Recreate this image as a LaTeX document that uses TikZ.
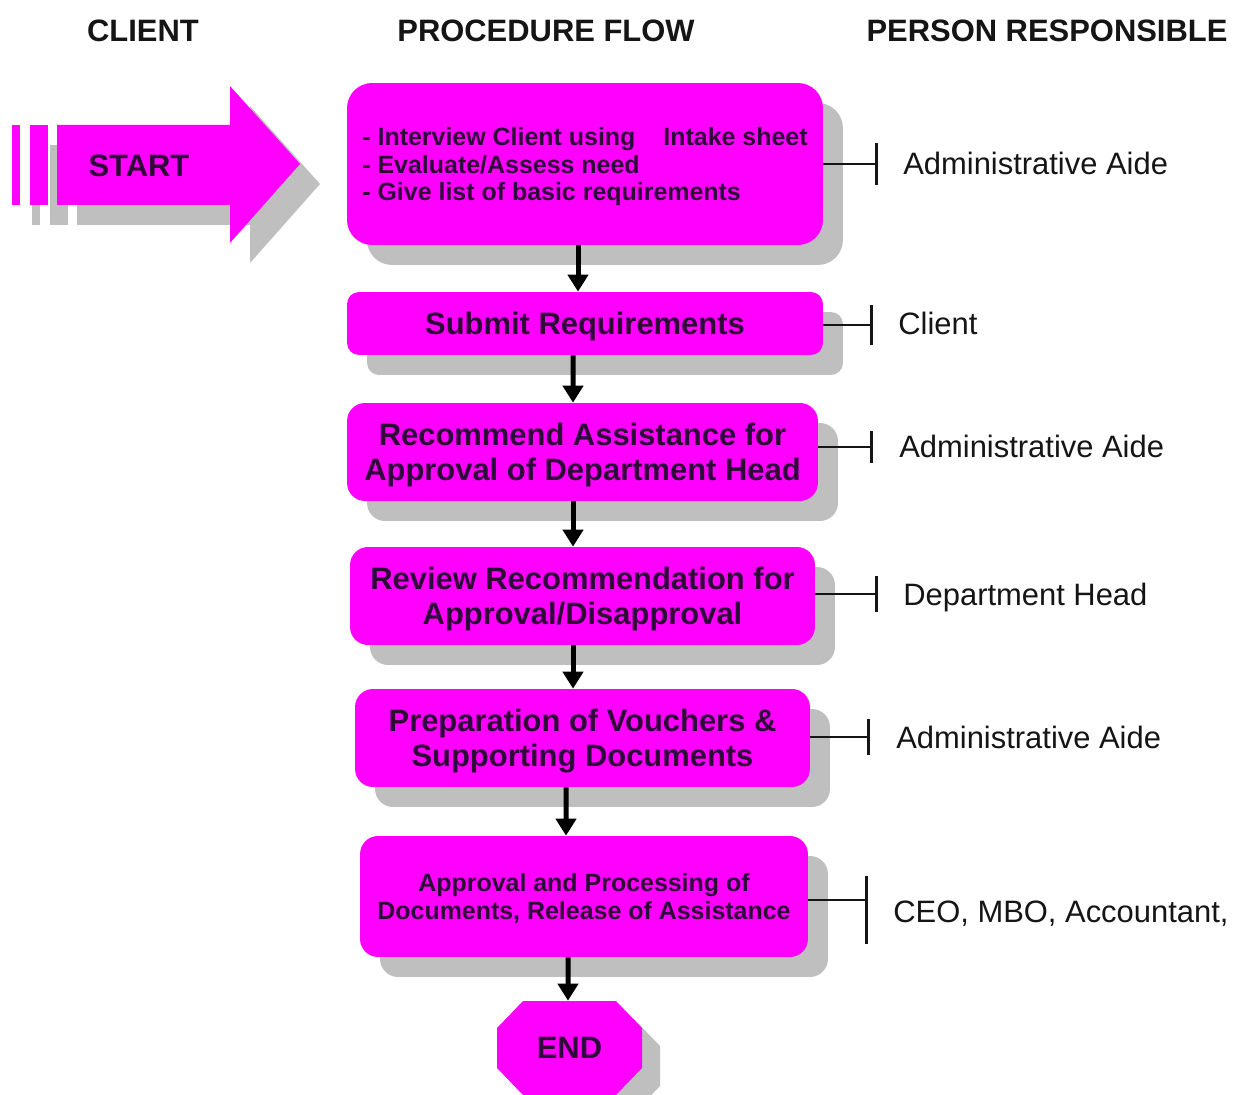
\documentclass[tikz,border=0pt]{standalone}
\usepackage{fontspec}
\setmainfont{Liberation Sans}
\usetikzlibrary{arrows.meta,shadows}
\definecolor{procfill}{HTML}{FF00FF}
\definecolor{shadowgray}{HTML}{BFBFBF}
\definecolor{boxink}{HTML}{2E0838}
\definecolor{labelink}{HTML}{151515}
\begin{document}
\begin{tikzpicture}[x=0.02cm,y=-0.02cm,
  stepbox/.style={draw=none, fill=procfill, rounded corners=0.36cm, text=boxink,
    font=\bfseries\fontsize{17.6}{19.8}\selectfont, align=center, inner sep=0pt,
    text depth=0pt,
    drop shadow={shadow xshift=0.4cm, shadow yshift=-0.4cm, fill=shadowgray, opacity=1}},
  smalltext/.style={font=\bfseries\fontsize{14.2}{15.9}\selectfont},
  flow/.style={line width=0.1cm, -{Triangle[width=0.4cm,length=0.34cm]}},
  link/.style={line width=0.055cm, labelink},
  tick/.style={line width=0.06cm, labelink},
  header/.style={font=\bfseries\fontsize{17.6}{20}\selectfont, text=labelink,
    text height=0.44cm, text depth=0pt, inner sep=0pt},
  who/.style={font=\fontsize{17.6}{20}\selectfont, text=labelink, anchor=west,
    text height=0.44cm, text depth=0pt, inner sep=0pt},
]
\useasboundingbox (0,0) rectangle (1235,1095);
\fill[white] (0,0) rectangle (1235,1095);

% column headings
\node[header] (h1) at (143,31) {CLIENT};
\node[header] (h2) at (546,31) {PROCEDURE FLOW};
\node[header] (h3) at (1047,31) {PERSON RESPONSIBLE};

% striped START arrow with its shadow
\begin{scope}[shift={(20,20)}]
  \fill[shadowgray] (12,125) rectangle (20,205);
  \fill[shadowgray] (30,125) rectangle (48,205);
  \fill[shadowgray] (57,125) -- (230,125) -- (230,86) -- (300,164) -- (230,243) -- (230,205) -- (57,205) -- cycle;
\end{scope}
\fill[procfill] (12,125) rectangle (20,205);
\fill[procfill] (30,125) rectangle (48,205);
\fill[procfill] (57,125) -- (230,125) -- (230,86) -- (300,164) -- (230,243) -- (230,205) -- (57,205) -- cycle;
\node[text=boxink, font=\bfseries\fontsize{17.6}{20}\selectfont] (start) at (139,166) {START};

% procedure steps
\node[stepbox, rounded corners=0.5cm, minimum width=9.52cm, minimum height=3.24cm, smalltext, align=left] (b1) at (585,164)
  {- Interview Client using\hspace{0.56cm}Intake sheet\\- Evaluate/Assess need\\- Give list of basic requirements};
\node[stepbox, rounded corners=0.24cm, minimum width=9.52cm, minimum height=1.26cm] (b2) at (585,323.5)
  {Submit Requirements};
\node[stepbox, minimum width=9.42cm, minimum height=1.96cm] (b3) at (582.5,452)
  {Recommend Assistance for\\Approval of Department Head};
\node[stepbox, minimum width=9.3cm, minimum height=1.96cm] (b4) at (582.5,596)
  {Review Recommendation for\\Approval/Disapproval};
\node[stepbox, minimum width=9.1cm, minimum height=1.96cm] (b5) at (582.5,738)
  {Preparation of Vouchers \&\\Supporting Documents};
\node[stepbox, minimum width=8.96cm, minimum height=2.42cm, smalltext] (b6) at (584,896.5)
  {Approval and Processing of\\Documents, Release of Assistance};

% END octagon
\begin{scope}[shift={(18,18)}]
  \fill[shadowgray] (523,1001) -- (616,1001) -- (642,1028) -- (642,1068) -- (616,1095) -- (523,1095) -- (497,1068) -- (497,1028) -- cycle;
\end{scope}
\fill[procfill] (523,1001) -- (616,1001) -- (642,1028) -- (642,1068) -- (616,1095) -- (523,1095) -- (497,1068) -- (497,1028) -- cycle;
\node[text=boxink, font=\bfseries\fontsize{17.6}{20}\selectfont, minimum width=2.9cm, minimum height=1.88cm, inner sep=0pt] (end) at (569.5,1048) {END};

% flow arrows
\draw[flow] ([xshift=-0.14cm]b1.south) -- ([xshift=-0.14cm]b2.north);
\draw[flow] ([xshift=-0.24cm]b2.south) -- ([xshift=-0.19cm]b3.north);
\draw[flow] ([xshift=-0.19cm]b3.south) -- ([xshift=-0.19cm]b4.north);
\draw[flow] ([xshift=-0.19cm]b4.south) -- ([xshift=-0.19cm]b5.north);
\draw[flow] ([xshift=-0.33cm]b5.south) -- ([xshift=-0.36cm]b6.north);
\draw[flow] ([xshift=-0.32cm]b6.south) -- ([xshift=-0.03cm]end.north);

% responsibility links
\coordinate (k1) at (876,164);
\coordinate (k2) at (871,325);
\coordinate (k3) at (871,447);
\coordinate (k4) at (876,594);
\coordinate (k5) at (868,737);
\coordinate (k6) at (866,900);
\draw[link] (b1.east |- k1) -- (k1);
\draw[link] (b2.east |- k2) -- (k2);
\draw[link] (b3.east |- k3) -- (k3);
\draw[link] (b4.east |- k4) -- (k4);
\draw[link] (b5.east |- k5) -- (k5);
\draw[link] (b6.east |- k6) -- (k6);
\draw[tick] ([yshift=0.43cm]k1) -- ([yshift=-0.43cm]k1);
\draw[tick] ([yshift=0.4cm]k2) -- ([yshift=-0.4cm]k2);
\draw[tick] ([yshift=0.32cm]k3) -- ([yshift=-0.32cm]k3);
\draw[tick] ([yshift=0.36cm]k4) -- ([yshift=-0.36cm]k4);
\draw[tick] ([yshift=0.36cm]k5) -- ([yshift=-0.36cm]k5);
\draw[tick] ([yshift=0.48cm]k6) -- ([yshift=-0.88cm]k6);

% persons responsible
\node[who] (p1) at (903,164) {Administrative Aide};
\node[who] (p2) at (898,324) {Client};
\node[who] (p3) at (899,447) {Administrative Aide};
\node[who] (p4) at (903,594) {Department Head};
\node[who] (p5) at (896,737) {Administrative Aide};
\node[who] (p6) at (893,911) {CEO, MBO, Accountant,};
\end{tikzpicture}
\end{document}
